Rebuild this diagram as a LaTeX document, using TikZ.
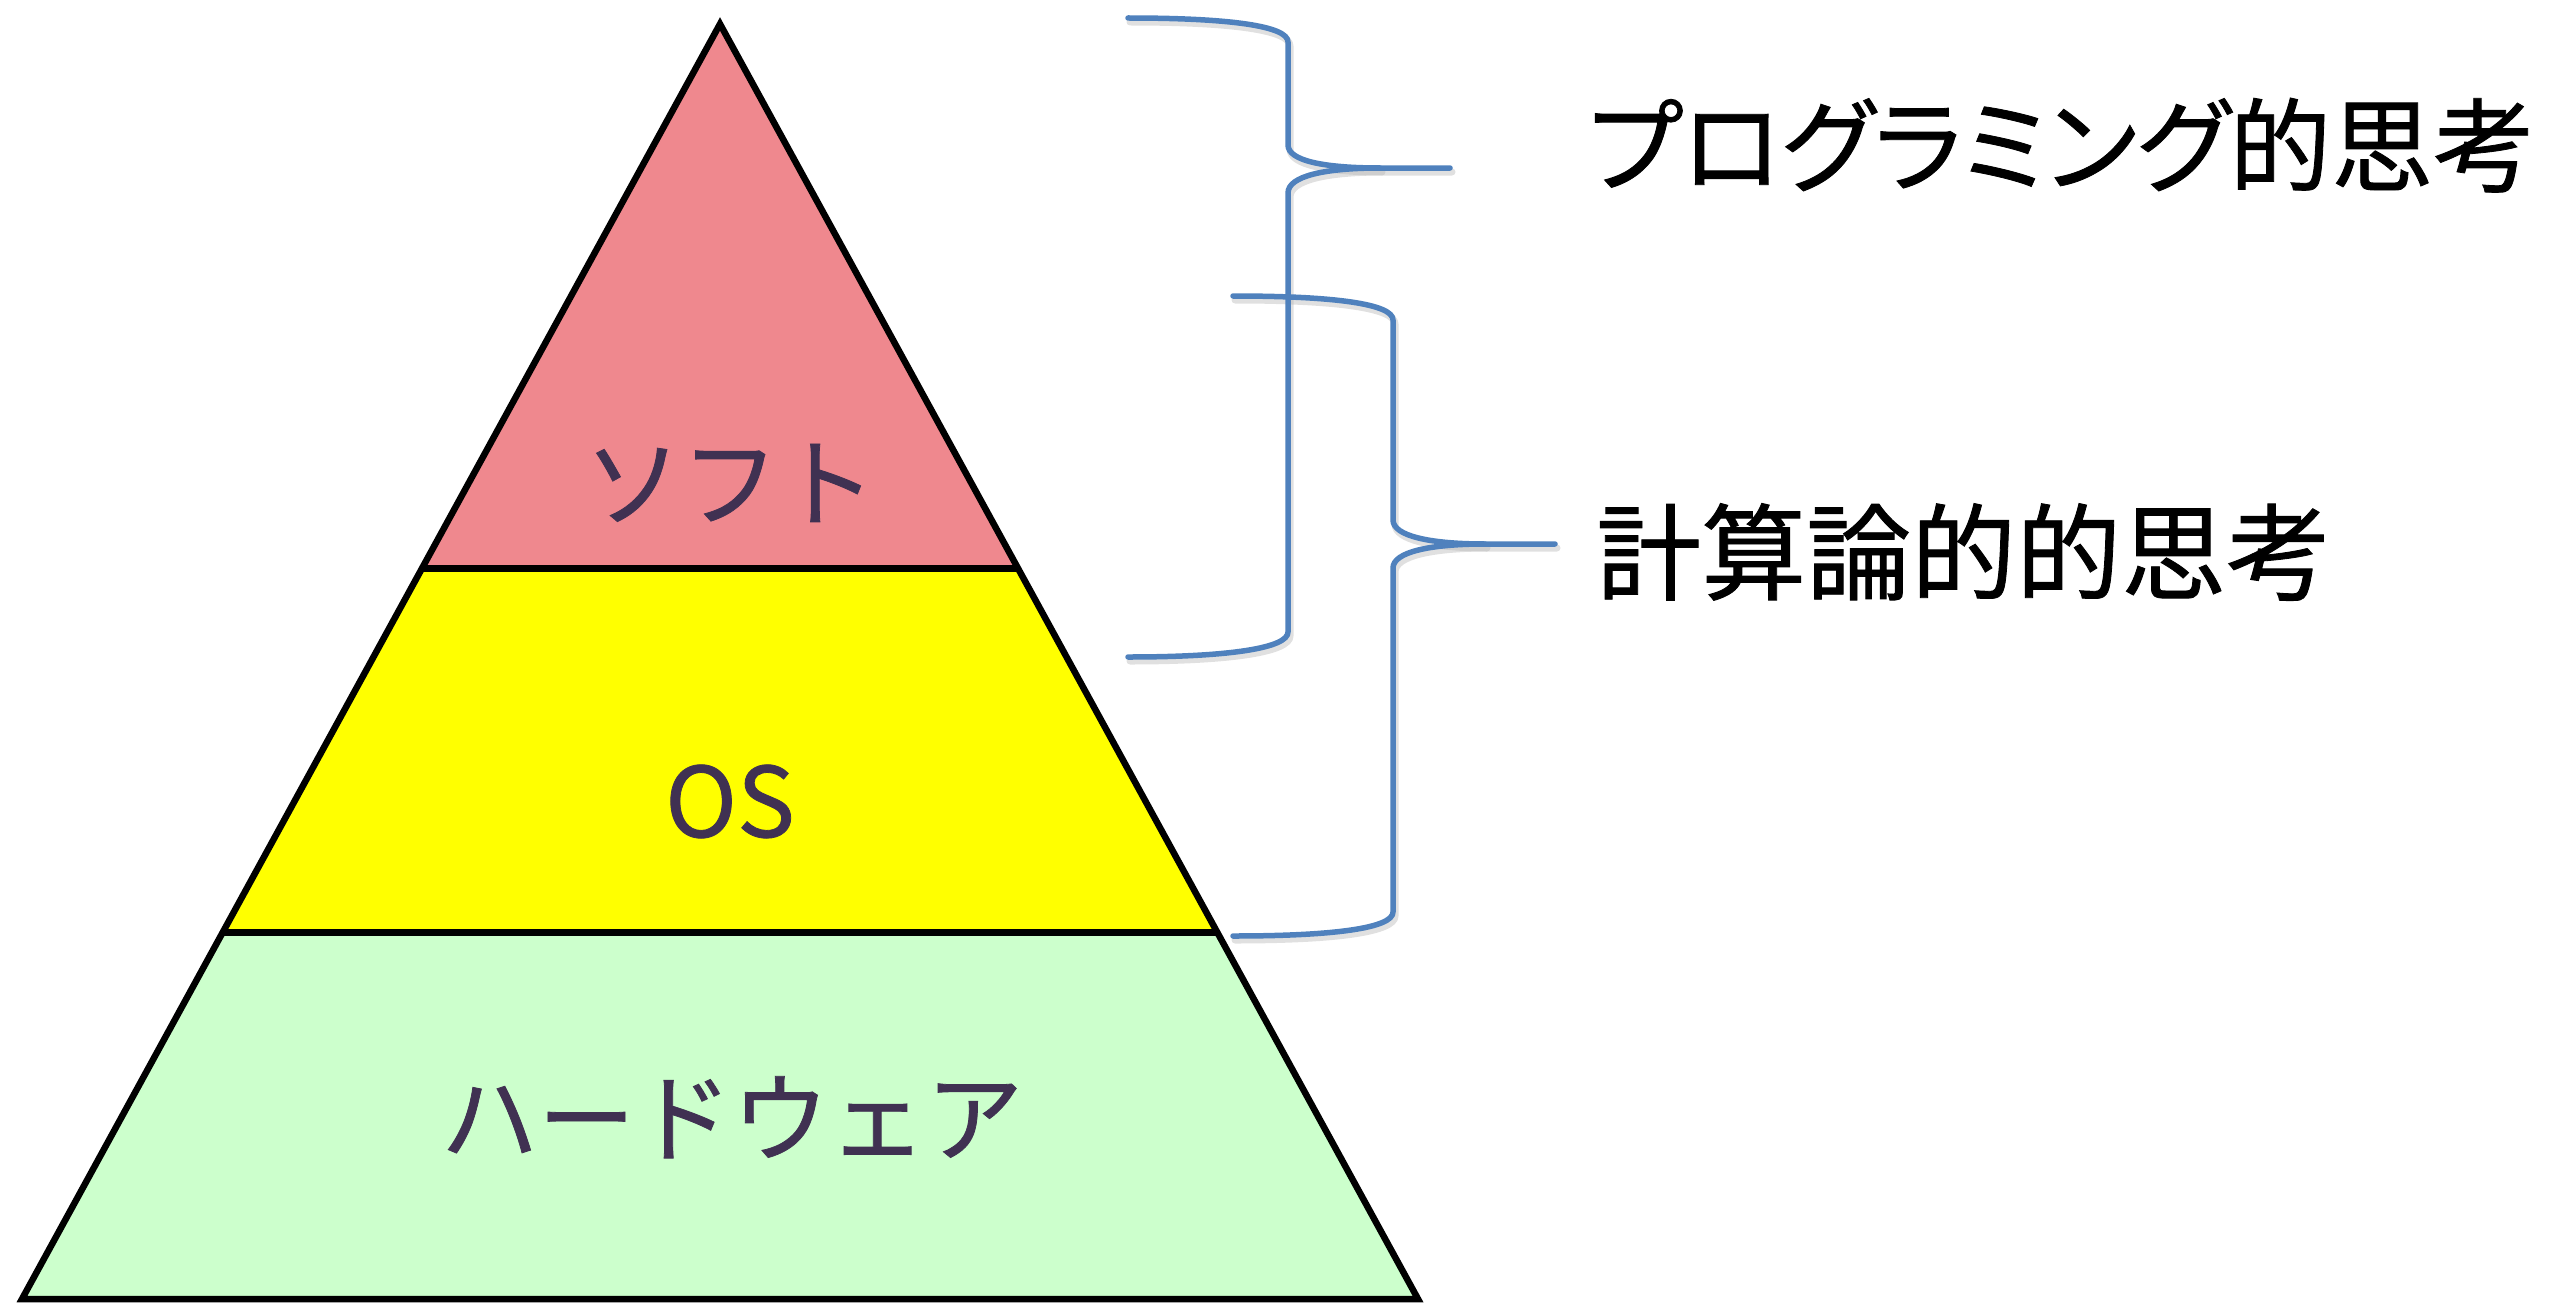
\documentclass[tikz,border=0pt]{standalone}
\usepackage{fontspec}
\newfontfamily\jp[FakeBold=0.8]{Noto Sans CJK JP}
\newfontfamily\jpp[RawFeature=+palt,FakeBold=0.8]{Noto Sans CJK JP}
\definecolor{pinkl}{RGB}{239,136,142}
\definecolor{yel}{RGB}{255,255,0}
\definecolor{grn}{RGB}{204,255,204}
\definecolor{txt}{RGB}{64,49,82}
\definecolor{brc}{RGB}{79,129,189}
\tikzset{
  edge/.style={line width=6.5pt, black, line join=miter},
  divider/.style={line width=7pt, black},
  bracestyle/.style={line width=5.5pt, brc, line cap=round, line join=round},
  braceshadow/.style={line width=7pt, black!30, opacity=0.4, line cap=round, line join=round},
  layertext/.style={anchor=base, inner sep=0pt, text=txt, font=\jp\fontsize{97}{110}\selectfont},
  sidetext/.style={anchor=base west, inner sep=0pt, text=black, font=\jp\fontsize{105}{120}\selectfont}
}
\begin{document}
\begin{tikzpicture}[x=1pt,y=-1pt]
\useasboundingbox (0,0) rectangle (2561,1303);
% pyramid corners
\coordinate (A) at (720,24);
\coordinate (BL) at (22,1299);
\coordinate (BR) at (1418,1299);
\coordinate (L1) at (421,568);
\coordinate (R1) at (1019,568);
\coordinate (L2) at (222,932);
\coordinate (R2) at (1218,932);
% fills
\fill[pinkl] (A) -- (R1) -- (L1) -- cycle;
\fill[yel] (L1) -- (R1) -- (R2) -- (L2) -- cycle;
\fill[grn] (L2) -- (R2) -- (BR) -- (BL) -- cycle;
% outline
\draw[edge] (A) -- (BR) -- (BL) -- cycle;
\draw[divider] (L1) -- (R1);
\draw[divider] (L2) -- (R2);
% layer labels
\node[layertext] (soft) at (730,519) {ソフト};
\node[layertext] (os) at (730,837) {OS};
\node[layertext] (hw) at (732,1154) {ハードウェア};
% braces (shadow then line)
\foreach \s/\dx/\dy in {braceshadow/2/4, bracestyle/0/0}{
  \begin{scope}[shift={(\dx,\dy)}]
  \draw[\s] (1128,18) .. controls (1230,18) and (1288,26) .. (1288,42)
     -- (1288,145) .. controls (1288,161) and (1325,168) .. (1380,168) -- (1450,168);
  \draw[\s] (1380,168) .. controls (1325,168) and (1288,176) .. (1288,193)
     -- (1288,632) .. controls (1288,648) and (1230,657) .. (1128,657);
  \draw[\s] (1233,296) .. controls (1335,296) and (1393,304) .. (1393,320)
     -- (1393,520) .. controls (1393,536) and (1430,544) .. (1485,544) -- (1555,544);
  \draw[\s] (1485,544) .. controls (1430,544) and (1393,552) .. (1393,568)
     -- (1393,912) .. controls (1393,928) and (1335,936) .. (1233,936);
  \end{scope}
}
% side labels
\node[sidetext, font=\jpp\fontsize{102}{118}\selectfont] (prog) at (1588,184) {プログラミング的思考};
\node[sidetext] (comp) at (1596,592) {計算論的的思考};
\end{tikzpicture}
\end{document}
